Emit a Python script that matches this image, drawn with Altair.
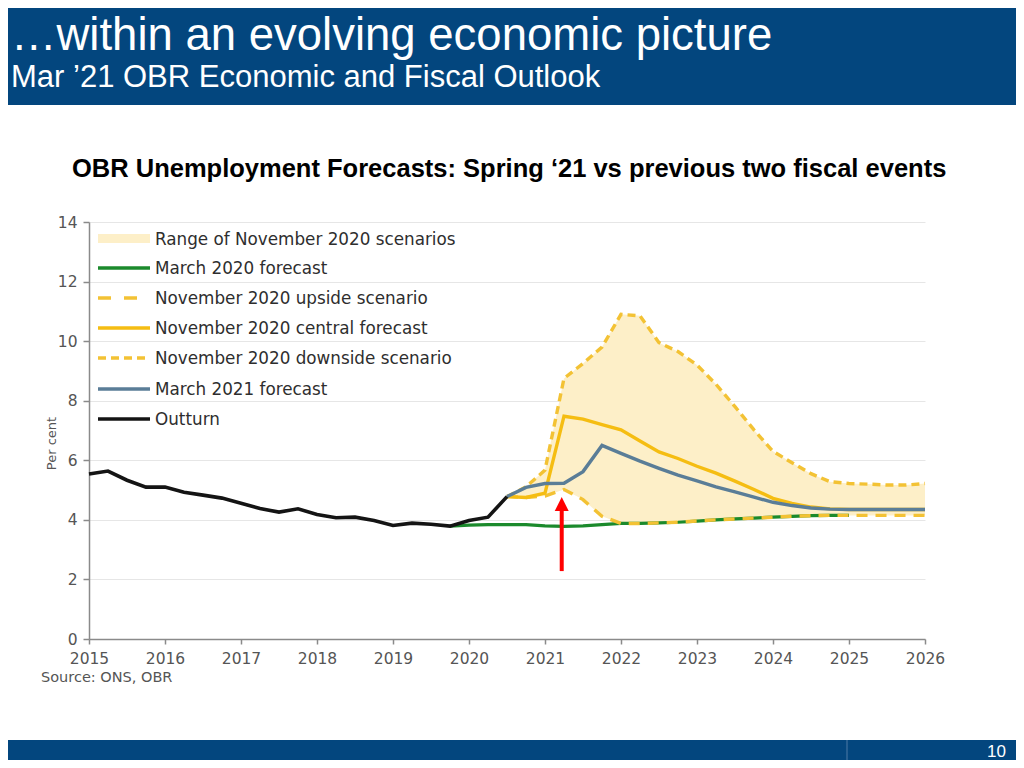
import altair as alt
import pandas as pd

# ---------------- data ----------------
def qpos(label):
    y, q = label.split(" Q")
    return int(y) + (int(q) - 1) / 4

outturn_quarters = [f"{y} Q{q}" for y in range(2015, 2021) for q in range(1, 5)][:23]   # 2015 Q1 .. 2020 Q3
outturn = [5.54, 5.64, 5.33, 5.10, 5.10, 4.93, 4.83, 4.73, 4.56, 4.38, 4.26, 4.37,
           4.18, 4.07, 4.09, 3.98, 3.81, 3.89, 3.85, 3.79, 3.98, 4.09, 4.78]

mar20_quarters = [f"{y} Q{q}" for y in range(2019, 2026) for q in range(1, 5)][3:25]   # 2019 Q4 .. 2025 Q1
mar20 = [3.79, 3.82, 3.84, 3.84, 3.84, 3.80, 3.78, 3.80, 3.84, 3.88, 3.88, 3.90,
         3.92, 3.96, 4.00, 4.03, 4.06, 4.09, 4.12, 4.14, 4.15, 4.15]

fc_quarters = [f"{y} Q{q}" for y in range(2020, 2027) for q in range(1, 5)][2:25]       # 2020 Q3 .. 2026 Q1
nov20_upside = [4.78, 4.75, 4.80, 5.02, 4.68, 4.12, 3.88, 3.88, 3.90, 3.92, 3.96, 4.00,
                4.03, 4.06, 4.09, 4.12, 4.14, 4.15, 4.15, 4.15, 4.15, 4.15, 4.15]
nov20_central = [4.78, 4.75, 4.90, 7.48, 7.38, 7.20, 7.02, 6.65, 6.28, 6.06, 5.80, 5.57,
                 5.30, 5.02, 4.72, 4.55, 4.43, 4.37, 4.35, 4.35, 4.35, 4.35, 4.35]
nov20_downside = [4.78, 5.11, 5.67, 8.75, 9.25, 9.80, 10.90, 10.85, 9.95, 9.65, 9.20, 8.55,
                  7.80, 7.02, 6.30, 5.92, 5.55, 5.28, 5.22, 5.20, 5.17, 5.17, 5.22]
mar21 = [4.78, 5.09, 5.22, 5.23, 5.62, 6.50, 6.23, 5.97, 5.73, 5.50, 5.31, 5.11,
         4.94, 4.76, 4.59, 4.48, 4.40, 4.36, 4.35, 4.35, 4.35, 4.35, 4.35]

x_ticks = [2015 + 0.5 * i for i in range(23)]
y_ticks = [0, 2, 4, 6, 8, 10, 12, 14]

arrow_x = [2021.22]
arrow_from = [2.28]
arrow_to = [4.40]
arrow_tip = [4.53]

legend_labels = ["Range of November 2020 scenarios", "March 2020 forecast",
                 "November 2020 upside scenario", "November 2020 central forecast",
                 "November 2020 downside scenario", "March 2021 forecast", "Outturn"]

title_text = "\u2026within an evolving economic picture"
subtitle_text = "Mar \u201921 OBR Economic and Fiscal Outlook"
chart_title = "OBR Unemployment Forecasts: Spring \u201821 vs previous two fiscal events"
source_text = "Source: ONS, OBR"
page_no = "10"

# ---------------- styling ----------------
NAVY = "#03467e"
AREA = "#fdefc8"
YEL = "#f5bd12"
YEL_D = "#f3c234"
GREEN = "#1b8a2c"
BLUE = "#5a7d97"
BLACK = "#141414"
AXIS_FONT = "DejaVu Sans"

out_df = pd.DataFrame({"t": [qpos(q) for q in outturn_quarters], "v": outturn})
m20_df = pd.DataFrame({"t": [qpos(q) for q in mar20_quarters], "v": mar20})
fc_df = pd.DataFrame({"t": [qpos(q) for q in fc_quarters], "up": nov20_upside,
                      "cen": nov20_central, "down": nov20_downside, "m21": mar21})
arrow_df = pd.DataFrame({"t": arrow_x, "y1": arrow_from, "y2": arrow_to, "tip": arrow_tip})
one = pd.DataFrame({"a": [0]})

xs = alt.Scale(domain=[2015, 2026], nice=False, zero=False)
ys = alt.Scale(domain=[0, 14], nice=False)

x_axis = alt.Axis(values=x_ticks, labelExpr="datum.value % 1 == 0 ? format(datum.value, 'd') : ''",
                  title=None, grid=False, domainColor="#8a8a8a", domainWidth=1.5,
                  tickColor="#8a8a8a", tickWidth=1.5, tickSize=5, labelPadding=7,
                  labelFont=AXIS_FONT, labelFontSize=15.5, labelColor="#555555",
                  labelOverlap=False, labelFlush=False)
y_axis = alt.Axis(values=y_ticks, title="Per cent", grid=True, gridColor="#e6e6e6",
                  domainColor="#8a8a8a", domainWidth=1.5, tickColor="#8a8a8a", tickWidth=1.5,
                  tickSize=6, labelPadding=6, labelFont=AXIS_FONT, labelFontSize=15.5,
                  labelColor="#555555", titleFont=AXIS_FONT, titleFontSize=13,
                  titleFontWeight="normal", titleColor="#555555", titleX=-34, titleY=221,
                  titleBaseline="alphabetic", titleAngle=270)

X = lambda f: alt.X(f, type="quantitative", scale=xs, axis=x_axis)
Y = lambda f: alt.Y(f, type="quantitative", scale=ys, axis=y_axis)

area = alt.Chart(fc_df).mark_area(color=AREA, opacity=1).encode(x=X("t"), y=Y("up"), y2="down")
green = alt.Chart(m20_df).mark_line(color=GREEN, strokeWidth=3.2).encode(x=X("t"), y=Y("v"))
upside = alt.Chart(fc_df).mark_line(color=YEL_D, strokeWidth=3.4, strokeDash=[11, 8]).encode(x=X("t"), y=Y("up"))
downside = alt.Chart(fc_df).mark_line(color=YEL_D, strokeWidth=3.4, strokeDash=[8, 5]).encode(x=X("t"), y=Y("down"))
central = alt.Chart(fc_df).mark_line(color=YEL, strokeWidth=3.4).encode(x=X("t"), y=Y("cen"))
blue = alt.Chart(fc_df).mark_line(color=BLUE, strokeWidth=3.4).encode(x=X("t"), y=Y("m21"))
black = alt.Chart(out_df).mark_line(color=BLACK, strokeWidth=3.6).encode(x=X("t"), y=Y("v"))

arrow_shaft = alt.Chart(arrow_df).mark_rule(color="#ff0000", strokeWidth=4).encode(
    x=alt.X("t:Q", scale=xs), y=alt.Y("y1:Q", scale=ys), y2="y2:Q")
arrow_head = alt.Chart(arrow_df).mark_point(shape="M-1,1L0,-1L1,1Z", filled=True, size=196,
                                            color="#ff0000", opacity=1).encode(
    x=alt.X("t:Q", scale=xs), y=alt.Y("tip:Q", scale=ys))

# ---------------- legend (drawn by hand inside the plot) ----------------
leg_y = [17, 46, 76, 106, 136, 167, 197]
leg_layers = []
leg_layers.append(alt.Chart(one).mark_rect(color=AREA).encode(
    x=alt.value(9), x2=alt.value(61), y=alt.value(leg_y[0] - 5), y2=alt.value(leg_y[0] + 4)))
styles = [None, (GREEN, None), (YEL_D, [13, 13]), (YEL, None), (YEL_D, [8, 5]), (BLUE, None), (BLACK, None)]
for i in range(1, 7):
    col, dash = styles[i]
    kw = dict(color=col, strokeWidth=3.4)
    if dash:
        kw["strokeDash"] = dash
    leg_layers.append(alt.Chart(one).mark_rule(**kw).encode(
        x=alt.value(9), x2=alt.value(61), y=alt.value(leg_y[i])))
for i, lab in enumerate(legend_labels):
    leg_layers.append(alt.Chart(one).mark_text(align="left", baseline="middle", font=AXIS_FONT,
                                               fontSize=16.8, color="#2e2e2e").encode(
        x=alt.value(66), y=alt.value(leg_y[i] + 1), text=alt.value(lab)))

# ---------------- slide decorations ----------------
header = alt.Chart(one).mark_rect(color=NAVY).encode(
    x=alt.value(-89), x2=alt.value(935), y=alt.value(-222), y2=alt.value(-117))
footer = alt.Chart(one).mark_rect(color=NAVY).encode(
    x=alt.value(-89), x2=alt.value(935), y=alt.value(518), y2=alt.value(546))
divider = alt.Chart(one).mark_rule(color="#4f7aa6", strokeWidth=1).encode(
    x=alt.value(758), y=alt.value(518), y2=alt.value(546))
t1 = alt.Chart(one).mark_text(align="left", baseline="alphabetic", font="Liberation Sans",
                              fontSize=45.5, color="white").encode(
    x=alt.value(-78), y=alt.value(-172), text=alt.value(title_text))
t2 = alt.Chart(one).mark_text(align="left", baseline="alphabetic", font="Liberation Sans",
                              fontSize=31, color="white").encode(
    x=alt.value(-78), y=alt.value(-135), text=alt.value(subtitle_text))
t3 = alt.Chart(one).mark_text(align="left", baseline="alphabetic", font="Liberation Sans",
                              fontSize=25.5, fontWeight="bold", color="black").encode(
    x=alt.value(-17), y=alt.value(-45), text=alt.value(chart_title))
src = alt.Chart(one).mark_text(align="left", baseline="alphabetic", font=AXIS_FONT,
                               fontSize=14.5, color="#555555").encode(
    x=alt.value(-48), y=alt.value(460), text=alt.value(source_text))
pg = alt.Chart(one).mark_text(align="right", baseline="alphabetic", font="Liberation Sans",
                              fontSize=17, color="white").encode(
    x=alt.value(917), y=alt.value(535), text=alt.value(page_no))

chart = alt.layer(
    area, green, upside, central, downside, blue, black, arrow_shaft, arrow_head,
    *leg_layers, header, footer, divider, t1, t2, t3, src, pg
).properties(
    width=836, height=417,
    padding={"left": 81, "top": 214, "right": 91, "bottom": 121},
    autosize=alt.AutoSizeParams(type="none"),
    background="white",
).configure_view(strokeWidth=0)

chart.save("out.html", embed_options={"renderer": "svg", "actions": False})
